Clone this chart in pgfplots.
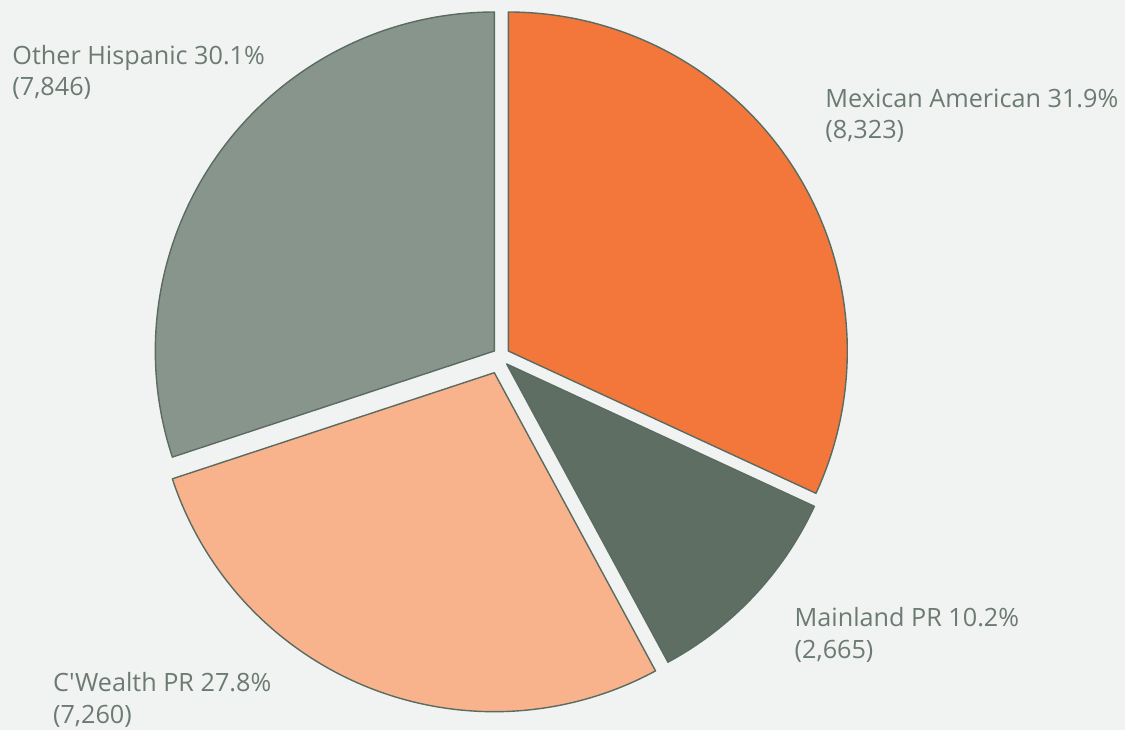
\documentclass[border=0pt]{standalone}
\usepackage{pgfplots}
\pgfplotsset{compat=1.18}
\usepackage{pgfplotstable}
\usepackage{fontspec}
\setmainfont{Open Sans}[Ligatures=TeXOff]

\definecolor{bg}{HTML}{F1F3F2}
\definecolor{mex}{HTML}{F3773B}
\definecolor{mainl}{HTML}{5E6E63}
\definecolor{cw}{HTML}{F9B38C}
\definecolor{oth}{HTML}{87958C}
\definecolor{edge}{HTML}{5A6B60}
\definecolor{txt}{HTML}{6C7B72}

% counts per group, clockwise from 12 o'clock
\pgfplotstableread{
name count
Mexican 8323
Mainland 2665
CWealth 7260
Other 7846
}\piedata

\pgfplotstablegetelem{0}{count}\of\piedata \edef\nA{\pgfplotsretval}
\pgfplotstablegetelem{1}{count}\of\piedata \edef\nB{\pgfplotsretval}
\pgfplotstablegetelem{2}{count}\of\piedata \edef\nC{\pgfplotsretval}
\pgfplotstablegetelem{3}{count}\of\piedata \edef\nD{\pgfplotsretval}
\edef\total{\fpeval{\nA+\nB+\nC+\nD}}
% slice boundaries (degrees)
\edef\aA{\fpeval{90-360*\nA/\total}}
\edef\aB{\fpeval{\aA-360*\nB/\total}}
\edef\aC{\fpeval{\aB-360*\nC/\total}}
\def\R{339}

\begin{document}
\begin{tikzpicture}
\begin{axis}[
    x=0.5pt, y=0.5pt,
    xmin=0, xmax=1125, ymin=0, ymax=730,
    scale only axis,
    axis line style={draw=none},
    ticks=none,
    axis background/.style={fill=bg},
    clip=false,
    every axis plot/.append style={draw=edge, line width=0.7pt, line join=round},
]
% exploded slices, each around its own apex
\addplot[fill=mex, domain=\aA:90, samples=120, variable=\t]
    ({508.3+\R*cos(\t)}, {379+\R*sin(\t)}) -- (axis cs:508.3,379) -- cycle;
\addplot[fill=mainl, domain=\aB:\aA, samples=60, variable=\t]
    ({506.7+\R*cos(\t)}, {366+\R*sin(\t)}) -- (axis cs:506.7,366) -- cycle;
\addplot[fill=cw, domain=\aC:\aB, samples=120, variable=\t]
    ({494.3+\R*cos(\t)}, {357.3+\R*sin(\t)}) -- (axis cs:494.3,357.3) -- cycle;
\addplot[fill=oth, domain=-270:\aC, samples=120, variable=\t]
    ({494.3+\R*cos(\t)}, {379+\R*sin(\t)}) -- (axis cs:494.3,379) -- cycle;

\tikzset{lbl/.style={anchor=base west, inner sep=0pt, text=txt, font=\fontsize{12.6}{14}\selectfont}}
\node[lbl] at (axis cs:12,665.7) {Other Hispanic 30.1\%};
\node[lbl] at (axis cs:12,634.2) {(7,846)};
\node[lbl] at (axis cs:825,622.7) {Mexican American 31.9\%};
\node[lbl] at (axis cs:825,591.2) {(8,323)};
\node[lbl] at (axis cs:794.3,103.3) {Mainland PR 10.2\%};
\node[lbl] at (axis cs:794.3,71.8) {(2,665)};
\node[lbl] at (axis cs:52.7,38.3) {C'Wealth PR 27.8\%};
\node[lbl] at (axis cs:52.7,6.8) {(7,260)};
\end{axis}
\end{tikzpicture}
\end{document}
